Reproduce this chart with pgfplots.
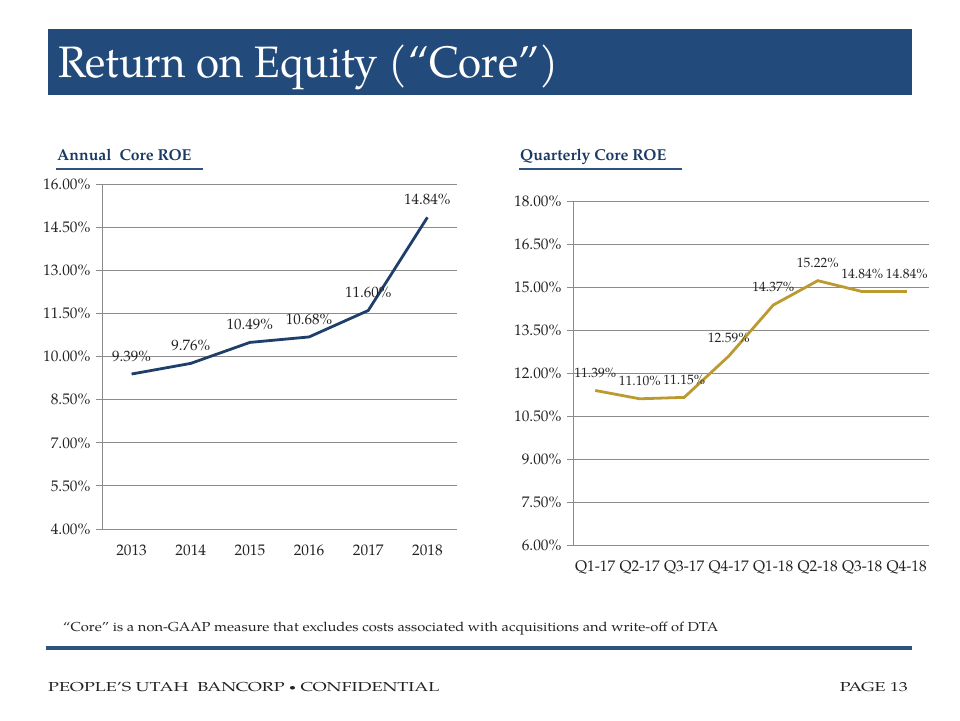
\documentclass[border=0pt]{standalone}
\usepackage{pgfplots}
\pgfplotsset{compat=1.18}
\usepackage{fontspec}
\setmainfont{TeX Gyre Pagella}
\definecolor{barblue}{HTML}{224A7B}
\definecolor{subblue}{HTML}{1B3A63}
\definecolor{ruleblue}{HTML}{2F5480}
\definecolor{annual}{HTML}{1F3F6B}
\definecolor{gold}{HTML}{BC9A30}
\definecolor{gridgray}{HTML}{8C8C8C}
\definecolor{txt}{HTML}{222222}
\pgfplotsset{
  roe/.style={
    scale only axis, clip=false,
    axis x line*=bottom, axis y line*=left,
    axis line style={draw=gridgray, line width=0.8pt, -},
    ymajorgrids, grid style={gridgray, line width=0.8pt},
    tick align=outside,
    major tick length=6pt, minor tick length=6pt,
    xtick style={draw=none},
    ytick style={draw=gridgray, line width=0.8pt},
    minor tick style={draw=gridgray, line width=0.8pt},
    xtick=data,
    /pgf/number format/assume math mode=true,
    yticklabel={\pgfmathprintnumber[fixed,fixed zerofill,precision=2]{\tick}\%},
    tick label style={text=txt, font=\fontsize{15.3}{15.3}\selectfont},
    xticklabel style={yshift=-6pt},
    yticklabel style={xshift=-2pt},
    nodes near coords={\pgfmathprintnumber[fixed,fixed zerofill,precision=2,assume math mode=true]{\pgfplotspointmeta}\%},
    every node near coord/.append style={anchor=center, yshift=18pt, text=txt},
  }
}
\begin{document}
\begin{tikzpicture}[x=1pt,y=1pt]
\path[fill=white, use as bounding box] (0,0) rectangle (960,720);
% title bar
\fill[barblue] (48,720-29) rectangle (912,720-95);
\node[anchor=base west, inner sep=0, text=white, font=\fontsize{44}{44}\selectfont] at (58,720-78) {\scalebox{0.955}[1]{Return on Equity (“Core”)}};
% subtitles
\node[anchor=base west, inner sep=0, text=subblue, font=\fontsize{15.8}{15.8}\selectfont\bfseries] at (57,720-161) {Annual\ \ Core ROE};
\draw[ruleblue, line width=2.5pt] (56,720-169) -- (203,720-169);
\node[anchor=base west, inner sep=0, text=subblue, font=\fontsize{15.8}{15.8}\selectfont\bfseries] at (520,720-161) {Quarterly Core ROE};
\draw[ruleblue, line width=2.5pt] (519,720-169) -- (682,720-169);

\begin{axis}[roe,
  at={(102pt,191pt)}, anchor=south west,
  width=355pt, height=345pt,
  xmin=-0.5, xmax=5.5, ymin=4, ymax=16,
  ytick={4,5.5,...,16},
  xticklabels={2013,2014,2015,2016,2017,2018},
  minor xtick={-0.5,0.5,...,5.5},
  every node near coord/.append style={font=\fontsize{15}{15}\selectfont},
]
\addplot[annual, line width=2.8pt, mark=none] coordinates {
  (0,9.39) (1,9.76) (2,10.49) (3,10.68) (4,11.60) (5,14.84)
};
\end{axis}

\begin{axis}[roe,
  at={(573pt,175pt)}, anchor=south west,
  width=356pt, height=344pt,
  xmin=-0.5, xmax=7.5, ymin=6, ymax=18,
  ytick={6,7.5,...,18},
  xticklabels={Q1-17,Q2-17,Q3-17,Q4-17,Q1-18,Q2-18,Q3-18,Q4-18},
  minor xtick={-0.5,0.5,...,7.5},
  every node near coord/.append style={font=\fontsize{13.5}{13.5}\selectfont},
]
\addplot[gold, line width=2.8pt, mark=none] coordinates {
  (0,11.39) (1,11.10) (2,11.15) (3,12.59) (4,14.37) (5,15.22) (6,14.84) (7,14.84)
};
\end{axis}

% footnote and footer
\node[anchor=base west, inner sep=0, text=txt, font=\fontsize{13}{13}\selectfont] at (63,720-631) {\scalebox{1.13}[1]{“Core” is a non-GAAP measure that excludes costs associated with acquisitions and write-off of DTA}};
\draw[ruleblue, line width=4pt] (46,720-648) -- (912,720-648);
\node[anchor=base west, inner sep=0, text=txt, font=\fontsize{13}{13}\selectfont] at (48,720-691) {\scalebox{1.38}[1]{PEOPLE’S UTAH\ \ BANCORP {\fontsize{9}{9}\selectfont\raisebox{1pt}{•}} CONFIDENTIAL}};
\node[anchor=base east, inner sep=0, text=txt, font=\fontsize{13}{13}\selectfont] at (908,720-691) {\scalebox{1.37}[1]{PAGE 13}};
\end{tikzpicture}
\end{document}
